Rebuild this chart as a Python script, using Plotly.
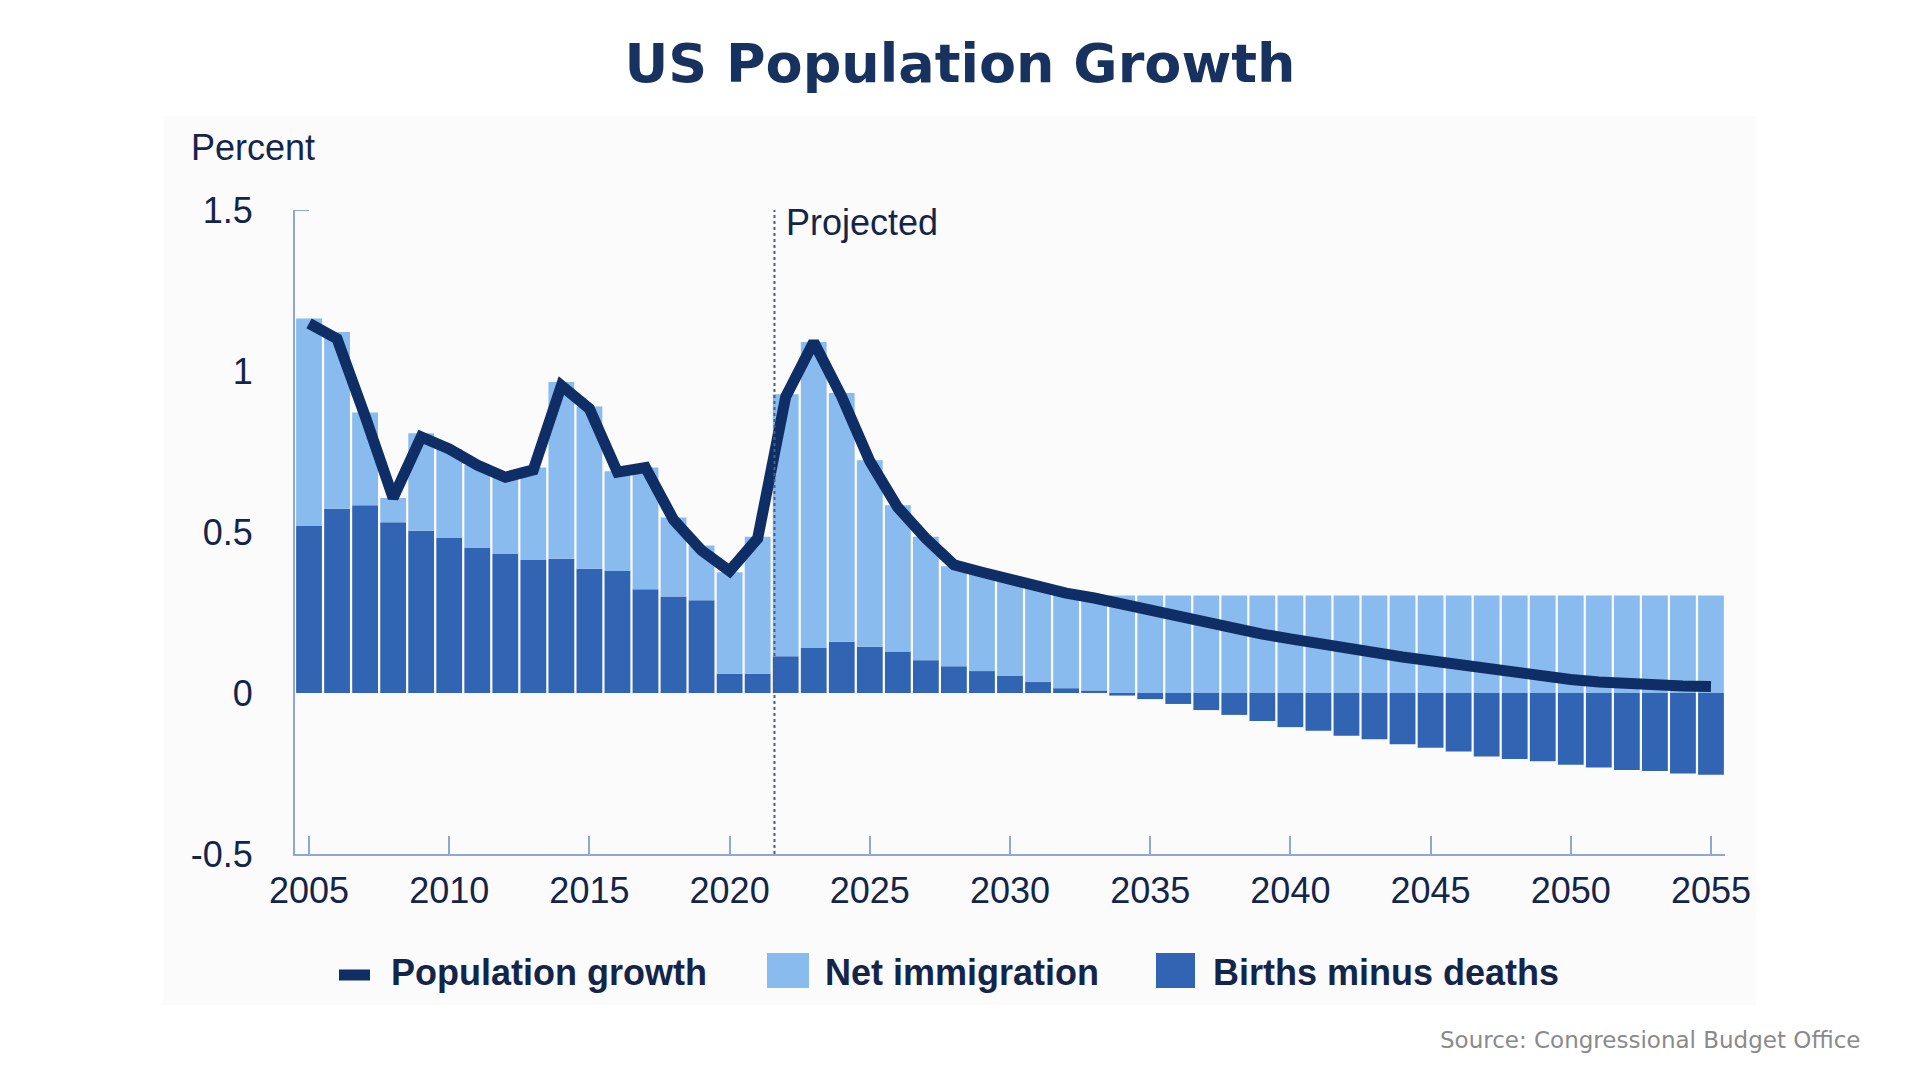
import plotly.graph_objects as go

years = list(range(2005, 2056))

births_minus_deaths = [
    0.519, 0.572, 0.583, 0.530, 0.504, 0.481, 0.450, 0.432, 0.413, 0.417,
    0.386, 0.379, 0.322, 0.300, 0.288, 0.060, 0.060, 0.114, 0.140, 0.159,
    0.144, 0.129, 0.102, 0.083, 0.068, 0.053, 0.034, 0.015, 0.008, -0.008,
    -0.019, -0.034, -0.053, -0.068, -0.087, -0.106, -0.117, -0.133, -0.144, -0.159,
    -0.170, -0.182, -0.197, -0.205, -0.212, -0.223, -0.231, -0.239, -0.242, -0.250,
    -0.254,
]

net_immigration = [
    0.644, 0.549, 0.288, 0.076, 0.303, 0.277, 0.258, 0.250, 0.287, 0.549,
    0.504, 0.310, 0.378, 0.245, 0.170, 0.315, 0.425, 0.814, 0.950, 0.773,
    0.579, 0.454, 0.383, 0.311, 0.307, 0.299, 0.292, 0.292, 0.295, 0.303,
    0.303, 0.303, 0.303, 0.303, 0.303, 0.303, 0.303, 0.303, 0.303, 0.303,
    0.303, 0.303, 0.303, 0.303, 0.303, 0.303, 0.303, 0.303, 0.303, 0.303,
    0.303,
]

population_growth = [
    1.148, 1.100, 0.860, 0.606, 0.795, 0.758, 0.708, 0.670, 0.693, 0.955,
    0.883, 0.686, 0.700, 0.538, 0.443, 0.379, 0.480, 0.920, 1.090, 0.920,
    0.720, 0.576, 0.480, 0.398, 0.375, 0.352, 0.330, 0.310, 0.295, 0.275,
    0.255, 0.236, 0.218, 0.200, 0.183, 0.168, 0.152, 0.138, 0.125, 0.112,
    0.100, 0.087, 0.075, 0.063, 0.052, 0.042, 0.034, 0.028, 0.024, 0.022,
    0.020,
]

x_tick_vals = [2005, 2010, 2015, 2020, 2025, 2030, 2035, 2040, 2045, 2050, 2055]
y_tick_vals = [-0.5, 0, 0.5, 1, 1.5]
y_tick_text = ["-0.5", "0", "0.5", "1", "1.5"]
projection_start = 2021.6

LIGHT = "#89bbee"
DARK = "#3264b4"
LINE = "#0f2e66"
TEXT = "#14254a"
AXIS = "#8fa7d2"
SANS = "Liberation Sans, Arial, sans-serif"

fig = go.Figure()
fig.add_trace(go.Bar(x=years, y=births_minus_deaths, name="Births minus deaths",
                     marker=dict(color=DARK, line=dict(width=0)), showlegend=False))
fig.add_trace(go.Bar(x=years, y=net_immigration, name="Net immigration",
                     marker=dict(color=LIGHT, line=dict(width=0)), showlegend=False))
fig.add_trace(go.Scatter(x=years, y=population_growth, name="Population growth",
                         mode="lines", line=dict(color=LINE, width=11),
                         showlegend=False))

W, H = 1920, 1080
L, R, T, B = 287, 1717, 202, 846


def xpaper(xp):
    return (xp - L) / (R - L)


def ypaper(yp):
    return (B - yp) / (B - T)


shapes = [
    dict(type="rect", xref="paper", yref="paper", layer="below",
         x0=xpaper(155), x1=xpaper(1748), y0=ypaper(997), y1=ypaper(108),
         fillcolor="#fbfbfc", line=dict(width=0)),
    dict(type="line", xref="x", yref="y", x0=projection_start, x1=projection_start,
         y0=-0.5, y1=1.5, line=dict(color="#4e5d7c", width=2, dash="dot")),
    # small cap tick at the top of the y axis
    dict(type="line", xref="paper", yref="y", x0=0, x1=xpaper(L + 14),
         y0=1.5, y1=1.5, line=dict(color=AXIS, width=2)),
    # manual legend keys
    dict(type="line", xref="paper", yref="paper",
         x0=xpaper(331), x1=xpaper(362), y0=ypaper(967), y1=ypaper(967),
         line=dict(color=LINE, width=11)),
    dict(type="rect", xref="paper", yref="paper",
         x0=xpaper(759), x1=xpaper(801), y0=ypaper(980), y1=ypaper(945),
         fillcolor=LIGHT, line=dict(width=0)),
    dict(type="rect", xref="paper", yref="paper",
         x0=xpaper(1148), x1=xpaper(1187), y0=ypaper(980), y1=ypaper(945),
         fillcolor=DARK, line=dict(width=0)),
]

legend_font = dict(family=SANS, size=36, color=TEXT)
annotations = [
    dict(text="<b>Population growth</b>", xref="paper", yref="paper",
         x=xpaper(381), y=ypaper(964), xanchor="left", yanchor="middle",
         showarrow=False, font=legend_font),
    dict(text="<b>Net immigration</b>", xref="paper", yref="paper",
         x=xpaper(815), y=ypaper(964), xanchor="left", yanchor="middle",
         showarrow=False, font=legend_font),
    dict(text="<b>Births minus deaths</b>", xref="paper", yref="paper",
         x=xpaper(1203), y=ypaper(964), xanchor="left", yanchor="middle",
         showarrow=False, font=legend_font),
    dict(text="Percent", xref="paper", yref="paper",
         x=xpaper(181), y=ypaper(139), xanchor="left", yanchor="middle",
         showarrow=False, font=dict(family=SANS, size=36, color=TEXT)),
    dict(text="Projected", xref="x", yref="y", x=projection_start, y=1.46,
         xanchor="left", yanchor="middle", xshift=10, showarrow=False,
         font=dict(family=SANS, size=36, color=TEXT)),
    dict(text="Source: Congressional Budget Office", xref="paper", yref="paper",
         x=xpaper(1854), y=ypaper(1032), xanchor="right", yanchor="middle",
         showarrow=False,
         font=dict(family="DejaVu Sans, sans-serif", size=23, color="#8a8a8a")),
]

fig.update_layout(
    width=W, height=H,
    barmode="relative",
    bargap=0.08,
    paper_bgcolor="white",
    plot_bgcolor="rgba(0,0,0,0)",
    margin=dict(l=L, r=W - R, t=T, b=H - B, autoexpand=False),
    title=dict(text="<b>US Population Growth</b>", x=(960 - 8) / W, xanchor="center",
               y=1 - 55 / H, yanchor="middle", yref="container",
               font=dict(family="DejaVu Sans, sans-serif", size=54, color="#17325f")),
    showlegend=False,
    shapes=shapes,
    annotations=annotations,
    xaxis=dict(range=[2004.5, 2055.5], tickvals=x_tick_vals, showgrid=False,
               zeroline=False, showline=True, linecolor=AXIS, linewidth=2,
               ticks="inside", ticklen=18, tickcolor=AXIS, tickwidth=1.5,
               ticklabelstandoff=4,
               tickfont=dict(family=SANS, size=36, color=TEXT)),
    yaxis=dict(range=[-0.5, 1.5], tickvals=y_tick_vals, ticktext=y_tick_text,
               showgrid=False, zeroline=False, showline=True, linecolor=AXIS,
               linewidth=2, ticks="", ticklabelstandoff=33,
               tickfont=dict(family=SANS, size=36, color=TEXT)),
)

fig.write_html("out.html")
